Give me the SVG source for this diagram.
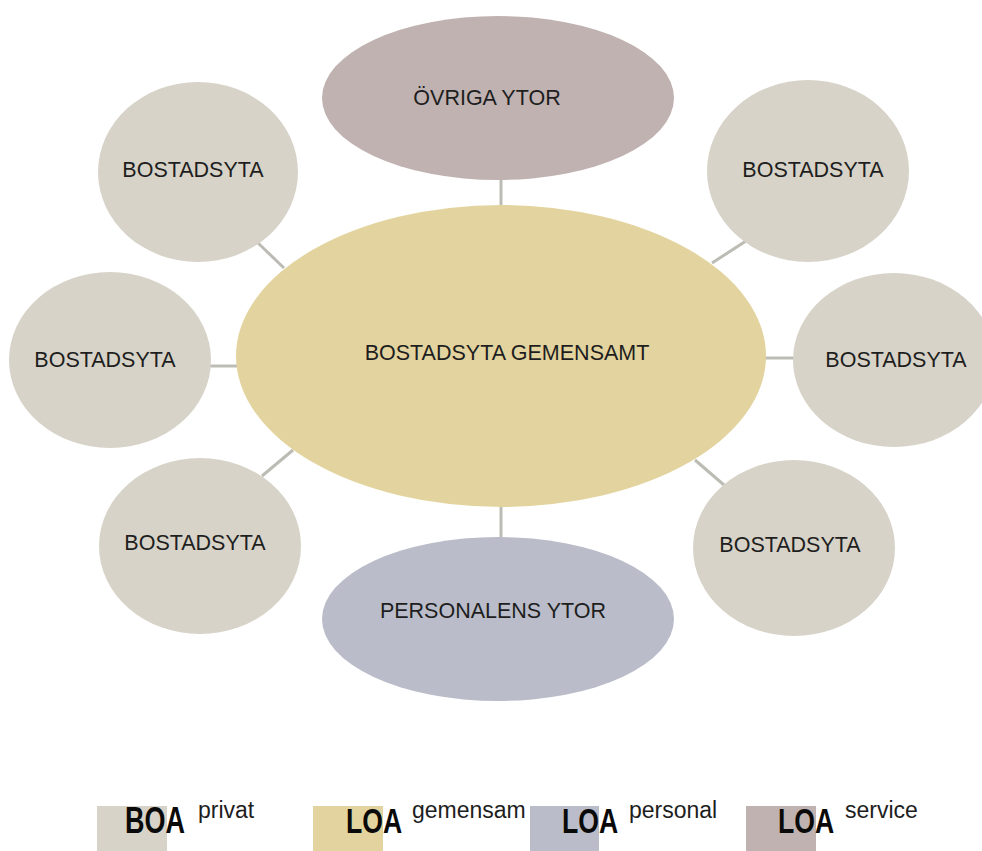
<svg xmlns="http://www.w3.org/2000/svg" width="982" height="851" viewBox="0 0 982 851">
<style>
.boa{fill:#d7d3c8}
.gem{fill:#e3d49f}
.srv{fill:#c0b2b1}
.per{fill:#babdc9}
.lbl{font-family:"Liberation Sans",Arial,sans-serif;font-size:21.5px;fill:#1e1e1e;text-anchor:middle;dominant-baseline:central}
.big{font-family:"Liberation Sans",Arial,sans-serif;font-size:36px;font-weight:bold;fill:#0a0a0a}
.sup{font-family:"Liberation Sans",Arial,sans-serif;font-size:23px;fill:#1e1e1e}
.con line{stroke:#bcbcb4;stroke-width:3}
</style>
<rect width="982" height="851" fill="#ffffff"/>
<g class="con" id="connectors">
<line x1="501" y1="180" x2="501" y2="206"/>
<line x1="501" y1="506" x2="501" y2="538"/>
<line x1="210" y1="366" x2="237" y2="366"/>
<line x1="765" y1="358" x2="795" y2="358"/>
<line x1="258" y1="243" x2="284" y2="268"/>
<line x1="712" y1="263" x2="746" y2="241"/>
<line x1="262" y1="476" x2="293" y2="450"/>
<line x1="695" y1="460" x2="724" y2="485"/>
</g>
<g id="n-center"><ellipse class="gem" cx="501" cy="356" rx="265" ry="151"/><text class="lbl" x="507" y="353">BOSTADSYTA GEMENSAMT</text></g>
<g id="n-ovriga"><ellipse class="srv" cx="498" cy="98" rx="176" ry="82"/><text class="lbl" x="487" y="98">ÖVRIGA YTOR</text></g>
<g id="n-personal"><ellipse class="per" cx="498" cy="619" rx="176" ry="82"/><text class="lbl" x="493" y="611">PERSONALENS YTOR</text></g>
<g id="n-tl"><ellipse class="boa" cx="198" cy="172" rx="100" ry="90"/><text class="lbl" x="193" y="170">BOSTADSYTA</text></g>
<g id="n-l"><ellipse class="boa" cx="110" cy="360" rx="101" ry="88"/><text class="lbl" x="105" y="360">BOSTADSYTA</text></g>
<g id="n-bl"><ellipse class="boa" cx="200" cy="546" rx="101" ry="88"/><text class="lbl" x="195" y="543">BOSTADSYTA</text></g>
<g id="n-tr"><ellipse class="boa" cx="808" cy="171" rx="101" ry="91"/><text class="lbl" x="813" y="170">BOSTADSYTA</text></g>
<g id="n-r"><ellipse class="boa" cx="894" cy="360" rx="101" ry="87"/><text class="lbl" x="896" y="360">BOSTADSYTA</text></g>
<g id="n-br"><ellipse class="boa" cx="794" cy="548" rx="101" ry="88"/><text class="lbl" x="790" y="545">BOSTADSYTA</text></g>
<g id="legend">
<rect class="boa" x="97" y="806" width="70" height="46"/>
<text class="big" transform="translate(125,833) scale(0.75,1)">BOA</text>
<text class="sup" x="198" y="818">privat</text>
<rect class="gem" x="313" y="806" width="70" height="46"/>
<text class="big" transform="translate(346,833) scale(0.74,1)">LOA</text>
<text class="sup" x="412" y="818">gemensam</text>
<rect class="per" x="530" y="806" width="69" height="46"/>
<text class="big" transform="translate(562,833) scale(0.74,1)">LOA</text>
<text class="sup" x="629" y="818">personal</text>
<rect class="srv" x="746" y="806" width="70" height="46"/>
<text class="big" transform="translate(778,833) scale(0.74,1)">LOA</text>
<text class="sup" x="845" y="818">service</text>
</g>
</svg>
